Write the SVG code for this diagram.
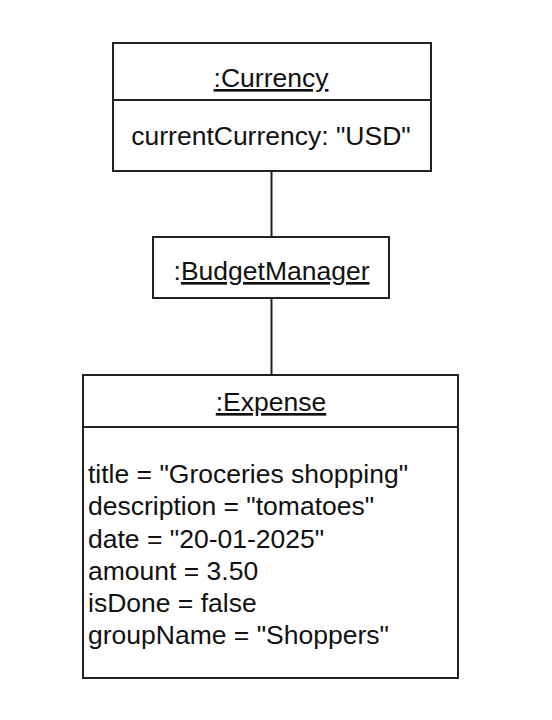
<svg xmlns="http://www.w3.org/2000/svg" width="552" height="720" viewBox="0 0 552 720">
<style>
.box{fill:#fff;stroke:#222;stroke-width:2}
.line{stroke:#222;stroke-width:2;fill:none}
text{font-family:"Liberation Sans",Arial,sans-serif;font-size:26.5px;fill:#111}
.c{text-anchor:middle}
.u{text-decoration:underline}
</style>
<rect width="552" height="720" fill="#fff"/>
<g id="connectors">
<line class="line" x1="271.5" y1="171" x2="271.5" y2="237"/>
<line class="line" x1="271.5" y1="298" x2="271.5" y2="375"/>
</g>
<g id="currency">
<rect class="box" x="113" y="43" width="318" height="128"/>
<line class="line" x1="113" y1="100" x2="431" y2="100"/>
<text class="c u" x="271" y="87">:Currency</text>
<text class="c" x="271" y="145">currentCurrency: "USD"</text>
</g>
<g id="budgetManager">
<rect class="box" x="153" y="237" width="236" height="61"/>
<text class="c" x="271.5" y="280">:<tspan class="u">BudgetManager</tspan></text>
</g>
<g id="expense">
<rect class="box" x="83" y="375" width="375" height="303"/>
<line class="line" x1="83" y1="427" x2="458" y2="427"/>
<text class="c u" x="271" y="411">:Expense</text>
<text x="88" y="483">title = "Groceries shopping"</text>
<text x="88" y="515">description = "tomatoes"</text>
<text x="88" y="547.5">date = "20-01-2025"</text>
<text x="88" y="579.5">amount = 3.50</text>
<text x="88" y="612">isDone = false</text>
<text x="88" y="644">groupName = "Shoppers"</text>
</g>
</svg>
